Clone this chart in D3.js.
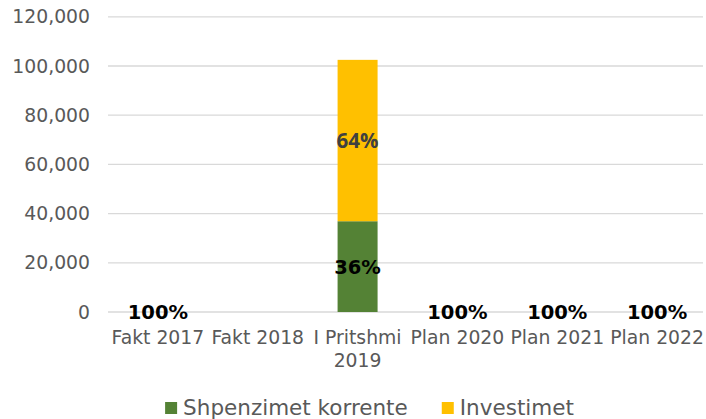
<!DOCTYPE html>
<html>
<head>
<meta charset="utf-8">
<script src="https://cdn.jsdelivr.net/npm/d3@7"></script>
<style>
  body { margin: 0; background: #fff; }
  svg { display: block; font-family: "DejaVu Sans", Verdana, sans-serif; }
</style>
</head>
<body>
<div id="chart"></div>
<script>
// Data
const categories = ['Fakt 2017', 'Fakt 2018', 'I Pritshmi 2019', 'Plan 2020', 'Plan 2021', 'Plan 2022'];
const shpenzimet = [0, null, 36900, 0, 0, 0];   // Shpenzimet korrente
const investimet = [0, null, 65600, 0, 0, 0];   // Investimet
const labelsShpenzimet = ['100%', '', '36%', '100%', '100%', '100%'];
const labelsInvestimet = ['', '', '64%', '', '', ''];
const yTicks = [0, 20000, 40000, 60000, 80000, 100000, 120000];
const seriesNames = ['Shpenzimet korrente', 'Investimet'];
const colors = ['#548235', '#ffc000'];

const width = 706, height = 419;

const svg = d3.select('#chart').append('svg')
    .attr('width', width)
    .attr('height', height);

// Scales
const x = d3.scaleBand()
    .domain(categories)
    .range([108, 707]);

const y = d3.scaleLinear()
    .domain([0, 120000])
    .range([312, 16.8]);

// Gridlines
svg.append('g')
    .selectAll('line')
    .data(yTicks)
    .join('line')
    .attr('x1', 108)
    .attr('x2', 703)
    .attr('y1', d => y(d))
    .attr('y2', d => y(d))
    .attr('stroke', '#d9d9d9')
    .attr('stroke-width', 1.3);

// Y axis labels
const axisY = svg.append('g')
    .attr('transform', 'translate(90, 0)')
    .call(d3.axisLeft(y).tickValues(yTicks).tickFormat(d3.format(',')).tickSize(0).tickPadding(0));
axisY.select('.domain').remove();
axisY.selectAll('text')
    .attr('fill', '#595959')
    .style('font-size', '18.8px')
    .style('font-family', '"DejaVu Sans", Verdana, sans-serif');

// Category labels (wrapped where needed)
const catLines = { 'I Pritshmi 2019': ['I Pritshmi', '2019'] };
const catG = svg.append('g');
categories.forEach(c => {
    const lines = catLines[c] || [c];
    const t = catG.append('text')
        .attr('x', x(c) + x.bandwidth() / 2)
        .attr('y', 344)
        .attr('text-anchor', 'middle')
        .attr('fill', '#595959')
        .style('font-size', '18.8px');
    lines.forEach((l, i) => {
        t.append('tspan')
            .attr('x', x(c) + x.bandwidth() / 2)
            .attr('dy', i === 0 ? 0 : 23)
            .text(l);
    });
});

// Stacked bars
const rows = categories.map((c, i) => ({ cat: c, s: shpenzimet[i] || 0, inv: investimet[i] || 0 }));
const stack = d3.stack().keys(['s', 'inv'])(rows);
const barW = 40;

stack.forEach((layer, li) => {
    svg.append('g')
        .selectAll('rect')
        .data(layer.filter(d => d[1] - d[0] > 0))
        .join('rect')
        .attr('x', d => x(d.data.cat) + x.bandwidth() / 2 - barW / 2)
        .attr('width', barW)
        .attr('y', d => y(d[1]))
        .attr('height', d => y(d[0]) - y(d[1]))
        .attr('fill', colors[li]);
});

// Data labels
const labelSets = [labelsShpenzimet, labelsInvestimet];
const labelStyles = [
    { color: '#000000', size: '19.5px', family: '"DejaVu Sans", Verdana, sans-serif' },
    { color: '#404040', size: '20.5px', family: '"Open Sans", sans-serif' }
];
stack.forEach((layer, li) => {
    const st = labelStyles[li];
    svg.append('g')
        .selectAll('text')
        .data(layer.map((d, i) => ({ d, text: labelSets[li][i] })).filter(o => o.text))
        .join('text')
        .attr('x', o => x(o.d.data.cat) + x.bandwidth() / 2)
        .attr('y', o => (y(o.d[0]) + y(o.d[1])) / 2)
        .attr('dy', '0.36em')
        .attr('text-anchor', 'middle')
        .attr('fill', st.color)
        .style('font-family', st.family)
        .style('font-size', st.size)
        .style('font-weight', 'bold')
        .text(o => o.text);
});

// Legend
const legend = svg.append('g');
let cx = 0;
seriesNames.forEach((name, i) => {
    const g = legend.append('g').attr('transform', `translate(${cx}, 0)`);
    g.append('rect')
        .attr('x', 0).attr('y', -13)
        .attr('width', 12).attr('height', 12)
        .attr('fill', colors[i]);
    const t = g.append('text')
        .attr('x', 18)
        .attr('y', 0)
        .attr('fill', '#595959')
        .style('font-size', '21.5px')
        .text(name);
    cx += 18 + t.node().getComputedTextLength() + 34;
});
const legendW = cx - 34;
legend.attr('transform', `translate(${369.5 - legendW / 2}, 415)`);
</script>
</body>
</html>
